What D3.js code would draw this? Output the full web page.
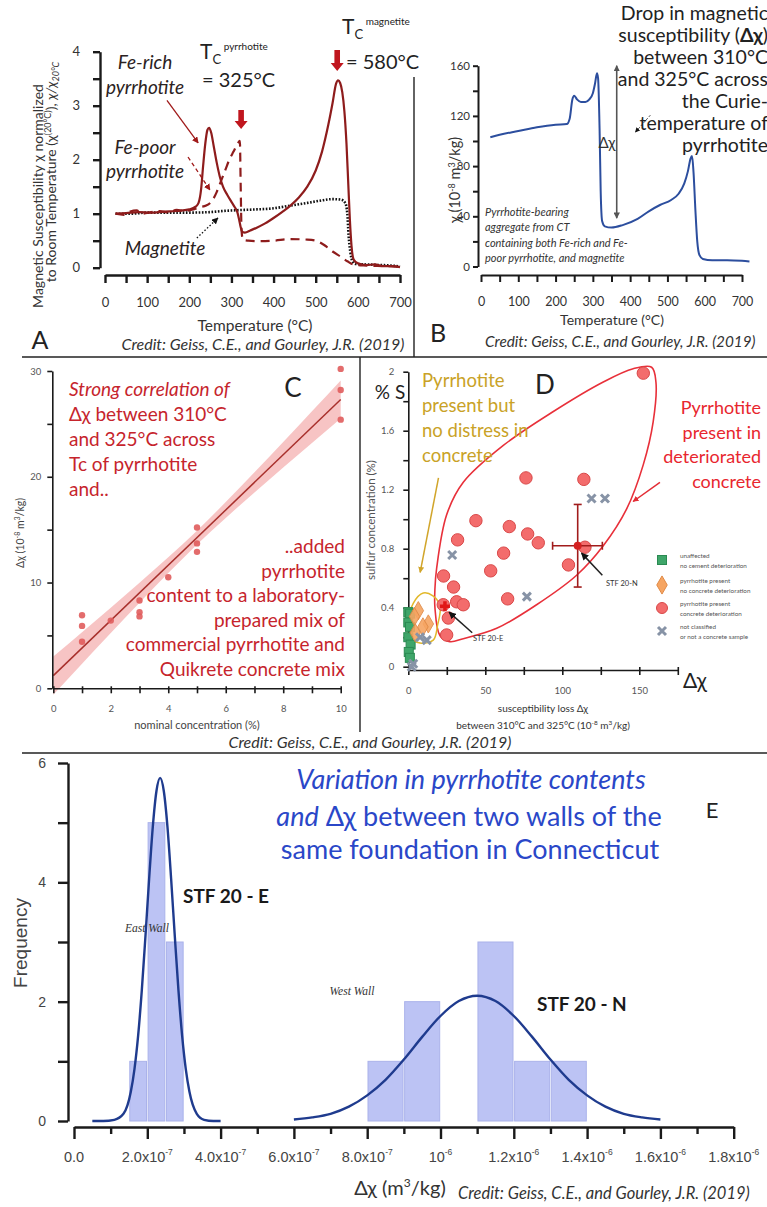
<!DOCTYPE html>
<html>
<head>
<meta charset="utf-8">
<title>Pyrrhotite susceptibility figure</title>
<script src="https://d3js.org/d3.v7.min.js"></script>
<style>
  body { margin: 0; background: #fff; }
  svg { display: block; font-family: Lato, "Open Sans", sans-serif; }
</style>
</head>
<body>
<svg id="fig" width="767" height="1207"></svg>
<script>
// ---------- panel A : normalised susceptibility vs temperature ----------
var feRichCurve = [[25,1.0],[50,1.01],[80,1.03],[110,1.02],[140,1.04],[170,1.05],[200,1.08],[215,1.13],[222,1.2],[228,1.45],[233,1.9],[238,2.3],[243,2.55],[247,2.59],[252,2.5],[258,2.25],[265,1.95],[272,1.7],[280,1.5],[290,1.35],[300,1.22],[308,1.12],[314,1.03],[318,0.9],[322,0.75],[326,0.66],[332,0.65],[345,0.69],[360,0.74],[380,0.82],[400,0.92],[420,1.03],[440,1.15],[460,1.3],[480,1.5],[500,1.8],[515,2.15],[530,2.65],[540,3.05],[548,3.4],[553,3.47],[558,3.42],[563,3.25],[568,2.9],[573,2.3],[577,1.6],[581,0.9],[585,0.4],[590,0.15],[600,0.08],[620,0.05],[640,0.06],[660,0.03],[680,0.03],[700,0.01]];
var fePoorCurve = [[25,1.0],[45,0.98],[60,1.04],[75,1.06],[90,1.0],[110,1.03],[130,1.05],[150,1.02],[170,1.07],[190,1.05],[210,1.08],[225,1.12],[240,1.15],[255,1.25],[265,1.4],[275,1.6],[285,1.8],[295,2.0],[305,2.15],[315,2.3],[320,2.35],[322,1.5],[324,0.7],[327,0.52],[340,0.5],[360,0.49],[400,0.5],[440,0.53],[480,0.52],[500,0.5],[520,0.42],[540,0.3],[560,0.2],[575,0.12],[590,0.06],[620,0.04],[660,0.03],[700,0.02]];
var magnetiteCurve = [[25,1.0],[60,1.0],[100,1.02],[150,1.02],[200,1.02],[250,1.03],[280,1.05],[300,1.06],[330,1.07],[360,1.08],[400,1.1],[440,1.15],[480,1.2],[510,1.24],[540,1.27],[560,1.26],[570,1.2],[575,1.0],[578,0.6],[582,0.3],[587,0.12],[595,0.07],[620,0.06],[650,0.05],[680,0.04],[700,0.02]];

// ---------- panel B : susceptibility of CT aggregate ----------
var aggregateCurve = [[25,103],[50,105],[100,108],[150,111],[200,113],[230,113.5],[238,118],[245,133],[250,136],[258,133],[268,131],[280,131],[290,133],[300,138],[306,146],[311,154],[314,150],[318,110],[321,60],[325,36],[332,32],[350,31],[380,33],[420,38],[450,44],[480,49],[510,53],[530,58],[545,66],[555,76],[562,86],[566,88],[570,75],[575,45],[580,20],[586,9],[595,6],[620,5],[660,5],[700,4.5],[720,4]];

// ---------- panel C : calibration with added pyrrhotite ----------
var nominalConc = [1,1,1,2,3,3,3,4,5,5,5,10,10,10];
var deltaChiC = [6.9,5.9,4.4,6.4,8.3,7.2,6.8,10.5,15.2,13.7,12.9,30.2,28.2,25.4];
var fitX = [0,10];
var fitY = [1.2,27.3];
var bandX = [0,1,2,3,4,5,6,7,8,9,10];
var bandLo = [-0.6,2.31,5.22,8.08,10.89,13.6,16.11,18.52,20.88,23.19,25.5];
var bandHi = [3.0,5.31,7.62,9.98,12.39,14.9,17.61,20.42,23.28,26.19,29.1];

// ---------- panel D : sulfur vs susceptibility loss ----------
var redX = [152.6,76.4,114,43.9,32,65.6,77.5,84.4,61.9,53.5,22.9,29.4,64.5,104,114.7,31.4,35.7,22.7,26,24.9];
var redY = [1.99,1.28,1.27,0.99,0.86,0.95,0.90,0.84,0.77,0.65,0.615,0.54,0.46,0.69,0.81,0.44,0.42,0.42,0.33,0.215];
var grayX = [28.5,77,119,127.7,3.2,7.6,12,2.2];
var grayY = [0.757,0.475,1.14,1.14,0.02,0.2,0.18,0.0];
var greenX = [0,1.2,0,1.1,0,1.5,0.3,1];
var greenY = [0.37,0.36,0.3,0.27,0.2,0.15,0.1,0.06];
var orangeX = [6.5,4,13,4.5,9.5];
var orangeY = [0.38,0.34,0.29,0.23,0.27];
var stfE = [23.8,0.41];
var stfN = [110,0.82];
var stfNxErr = [93.7,126];
var stfNyErr = [0.54,1.10];
var loopX = [18.4,24.9,35.7,61.7,94.2,126.6,146,158,160.8,159,152.6,141.8,126.6,109.3,83.3,57.4,35.7,27,20.6,17.3,17.3];
var loopY = [0.667,1.03,1.25,1.50,1.73,1.93,2.02,2.03,1.93,1.66,1.37,1.07,0.82,0.62,0.42,0.26,0.19,0.17,0.21,0.40,0.53];
var ovalX = [9.7,16,20.6,19,16.2,7.6,1,0,3.2];
var ovalY = [0.5,0.48,0.41,0.28,0.18,0.16,0.2,0.3,0.43];

// ---------- panel E : histograms of the two walls ----------
var eastBins = [1.5e-7,2.0e-7,2.5e-7];
var eastCounts = [1,5,3];
var eastWidth = 0.5e-7;
var westBins = [8e-7,9e-7,1.0e-6,1.1e-6,1.2e-6,1.3e-6];
var westCounts = [1,2,0,3,1,1];
var westWidth = 1e-7;
var eastFitX = [0.5e-7,0.8e-7,1.1e-7,1.35e-7,1.55e-7,1.65e-7,1.75e-7,1.85e-7,1.95e-7,2.05e-7,2.15e-7,2.25e-7,2.35e-7,2.45e-7,2.55e-7,2.65e-7,2.75e-7,2.85e-7,2.95e-7,3.05e-7,3.15e-7,3.35e-7,3.55e-7,3.8e-7,4.0e-7];
var eastFitY = [0,0,0.02,0.12,0.49,0.87,1.43,2.19,3.10,4.06,4.93,5.53,5.75,5.53,4.93,4.06,3.10,2.19,1.43,0.87,0.49,0.12,0.02,0,0];
var westFitX = [6e-7,6.5e-7,7e-7,7.5e-7,8e-7,8.5e-7,9e-7,9.5e-7,1.0e-6,1.05e-6,1.1e-6,1.15e-6,1.2e-6,1.25e-6,1.3e-6,1.35e-6,1.4e-6,1.45e-6,1.5e-6,1.55e-6,1.6e-6];
var westFitY = [0.025,0.06,0.12,0.24,0.43,0.69,1.03,1.41,1.76,2.01,2.10,2.01,1.76,1.41,1.03,0.69,0.43,0.24,0.12,0.06,0.025];
var eTickVals = [0,2e-7,4e-7,6e-7,8e-7,1e-6,1.2e-6,1.4e-6,1.6e-6,1.8e-6];
var eTickMant = ["0.0","2.0x10","4.0x10","6.0x10","8.0x10","10","1.2x10","1.4x10","1.6x10","1.8x10"];
var eTickExp = ["","-7","-7","-7","-7","-6","-6","-6","-6","-6"];

var credit = "Credit: Geiss, C.E., and Gourley, J.R. (2019)";

var svg = d3.select("#fig");

// arrow heads
var defs = svg.append("defs");
function marker(id, color, size) {
    defs.append("marker").attr("id", id)
        .attr("viewBox", "0 0 10 10").attr("refX", 9).attr("refY", 5)
        .attr("markerWidth", size).attr("markerHeight", size)
        .attr("orient", "auto-start-reverse")
        .append("path").attr("d", "M0,0L10,5L0,10z").attr("fill", color);
}
marker("arDark", "#a01a1a", 5);
marker("arBlack", "#111", 5);
marker("arGray", "#555", 4);
marker("arGold", "#d1a52a", 4);
marker("arRed", "#e32d36", 4);

function text(g, x, y, s, attrs) {
    var t = g.append("text").attr("x", x).attr("y", y).text(s);
    for (var k in attrs) t.attr(k, attrs[k]);
    return t;
}
// text made of several styled pieces
function rich(g, x, y, parts, attrs) {
    var t = g.append("text").attr("x", x).attr("y", y);
    for (var k in attrs) t.attr(k, attrs[k]);
    parts.forEach(function(p) {
        var s = t.append("tspan").text(p[0]);
        for (var k in p[1] || {}) s.attr(k, p[1][k]);
    });
    return t;
}
function styleAxis(g, size, color, width, family) {
    g.selectAll("path, line").attr("stroke", "#1a1a1a").attr("stroke-width", width);
    g.selectAll("text").attr("font-size", size).attr("fill", color)
        .attr("font-family", family || "Lato, sans-serif");
}
var creditStyle = {"font-size": 16, "font-style": "italic", "fill": "#333"};

// ================= PANEL A =================
var gA = svg.append("g");
var xA = d3.scaleLinear().domain([0, 700]).range([105, 400]);
var yA = d3.scaleLinear().domain([0, 4]).range([267.7, 51.7]);

var axA = gA.append("g").attr("transform", "translate(0,275)")
    .call(d3.axisBottom(xA).tickValues(d3.range(0, 701, 50)).tickSize(8).tickSizeOuter(0)
        .tickPadding(15).tickFormat(function(d) { return d % 100 === 0 ? d : ""; }));
styleAxis(axA, 13, "#333", 2.4);
var ayA = gA.append("g").attr("transform", "translate(100,0)")
    .call(d3.axisLeft(yA).tickValues(d3.range(0, 4.01, 0.5)).tickSize(7).tickSizeOuter(0)
        .tickPadding(13).tickFormat(function(d) { return Number.isInteger(d) ? d : ""; }));
styleAxis(ayA, 13, "#333", 2.4);

var lineA = d3.line().x(function(d) { return xA(d[0]); }).y(function(d) { return yA(d[1]); })
    .curve(d3.curveMonotoneX);
gA.append("path").attr("d", lineA(magnetiteCurve)).attr("fill", "none")
    .attr("stroke", "#111").attr("stroke-width", 2.6).attr("stroke-dasharray", "1.6,1.6");
gA.append("path").attr("d", lineA(fePoorCurve)).attr("fill", "none")
    .attr("stroke", "#8e1c1c").attr("stroke-width", 2.2).attr("stroke-dasharray", "9,6");
gA.append("path").attr("d", lineA(feRichCurve)).attr("fill", "none")
    .attr("stroke", "#8e1c1c").attr("stroke-width", 2.2);

// annotation arrows
function arrowA(a, b, color, mark, dash) {
    gA.append("line").attr("x1", xA(a[0])).attr("y1", yA(a[1])).attr("x2", xA(b[0])).attr("y2", yA(b[1]))
        .attr("stroke", color).attr("stroke-width", 1.3).attr("stroke-dasharray", dash || null)
        .attr("marker-end", "url(#" + mark + ")");
}
arrowA([147, 3.1], [221, 2.31], "#a01a1a", "arDark");
arrowA([197, 2.05], [249, 1.44], "#a01a1a", "arDark", "4,3");
arrowA([218, 0.55], [268, 0.92], "#111", "arBlack", "1.5,2");

// thick red Curie arrows
function curieArrow(T, top, bot) {
    var x = xA(T);
    gA.append("path")
        .attr("d", "M" + (x - 2.8) + "," + top + "V" + (bot - 8) + "H" + (x - 6.5) + "L" + x + "," + bot +
            "L" + (x + 6.5) + "," + (bot - 8) + "H" + (x + 2.8) + "V" + top + "Z")
        .attr("fill", "#c0161e");
}
curieArrow(323, 110, 129);
curieArrow(551, 50, 71);

var annA = { "font-size": 19, "font-style": "italic", "fill": "#2b2222", "text-anchor": "middle" };
text(gA, 145, 69, "Fe-rich", annA);
text(gA, 145, 94, "pyrrhotite", annA);
text(gA, 145, 154, "Fe-poor", annA);
text(gA, 145, 178, "pyrrhotite", annA);
text(gA, 165, 255, "Magnetite", annA);

rich(gA, 200, 59, [["T", {"font-size": 21}], ["C", {"font-size": 13, "dy": 5}],
    [" pyrrhotite", {"font-size": 10, "dy": -14}]], {"fill": "#222"});
text(gA, 202, 87, "= 325°C", {"font-size": 20, "fill": "#222"});
rich(gA, 342, 34, [["T", {"font-size": 21}], ["C", {"font-size": 13, "dy": 5}],
    [" magnetite", {"font-size": 10, "dy": -14}]], {"fill": "#222"});
text(gA, 346, 69, "= 580°C", {"font-size": 20, "fill": "#222"});

text(gA, 255, 331, "Temperature (°C)", {"font-size": 15.5, "fill": "#333", "text-anchor": "middle"});
text(gA, 40, 349, "A", {"font-size": 25, "fill": "#222", "text-anchor": "middle"});
text(gA, 263, 350, credit, Object.assign({"text-anchor": "middle"}, creditStyle));

var yLab1 = gA.append("g").attr("transform", "translate(43,196) rotate(-90)");
text(yLab1, 0, 0, "Magnetic Susceptibility χ normalized", {"font-size": 14, "fill": "#333", "text-anchor": "middle"});
var yLab2 = gA.append("g").attr("transform", "translate(56,172) rotate(-90)");
rich(yLab2, 0, 0, [["to Room Temperature (χ"], ["(20°C)", {"font-size": 9, "dy": -5}],
    ["),  ", {"dy": 5}], ["χ/χ", {"font-style": "italic"}], ["20°C", {"font-size": 9, "dy": 3, "font-style": "italic"}]],
    {"font-size": 14, "fill": "#333", "text-anchor": "middle"});

// ================= PANEL B =================
var gB = svg.append("g");
var xB = d3.scaleLinear().domain([0, 700]).range([481, 742]);
var yB = d3.scaleLinear().domain([0, 160]).range([266.5, 65.7]);
var axB = gB.append("g").attr("transform", "translate(0,275)")
    .call(d3.axisBottom(xB).tickValues(d3.range(0, 701, 50)).tickSize(7).tickSizeOuter(0)
        .tickPadding(15).tickFormat(function(d) { return d % 100 === 0 ? d : ""; }));
styleAxis(axB, 12.5, "#333", 2);
var ayB = gB.append("g").attr("transform", "translate(478,0)")
    .call(d3.axisLeft(yB).tickValues(d3.range(0, 161, 20)).tickSize(5).tickSizeOuter(0)
        .tickPadding(3).tickFormat(function(d) { return d % 40 === 0 ? d : ""; }));
styleAxis(ayB, 11.5, "#333", 2);

var lineB = d3.line().x(function(d) { return xB(d[0]); }).y(function(d) { return yB(d[1]); })
    .curve(d3.curveMonotoneX);
gB.append("path").attr("d", lineB(aggregateCurve)).attr("fill", "none")
    .attr("stroke", "#2c4e9e").attr("stroke-width", 2);

gB.append("line").attr("x1", xB(364)).attr("x2", xB(364)).attr("y1", yB(38.5)).attr("y2", yB(160))
    .attr("stroke", "#555").attr("stroke-width", 1.6)
    .attr("marker-start", "url(#arGray)").attr("marker-end", "url(#arGray)");
text(gB, 607, 148, "Δχ", {"font-size": 15, "fill": "#333", "text-anchor": "middle"});
gB.append("line").attr("x1", xB(454)).attr("y1", yB(120.5)).attr("x2", xB(414)).attr("y2", yB(107))
    .attr("stroke", "#333").attr("stroke-width", 1).attr("stroke-dasharray", "2,2")
    .attr("marker-end", "url(#arBlack)");

var dropLines = ["Drop in magnetic", null, "between 310°C", "and 325°C across", "the Curie-", "temperature of", "pyrrhotite"];
dropLines.forEach(function(s, i) {
    if (s === null) {
        rich(gB, 768, 20 + i * 22, [["susceptibility ("], ["Δχ", {"font-weight": "bold"}], [")"]],
            {"font-size": 19.5, "fill": "#222", "text-anchor": "end"});
    } else {
        text(gB, 768, 20 + i * 22, s, {"font-size": 19.5, "fill": "#222", "text-anchor": "end"});
    }
});
var noteB = ["Pyrrhotite-bearing", "aggregate from CT", "containing both Fe-rich and Fe-", "poor pyrrhotite, and magnetite"];
noteB.forEach(function(s, i) {
    text(gB, 485, 216 + i * 15.3, s, {"font-size": 11, "font-style": "italic", "fill": "#333"});
});
text(gB, 612, 325, "Temperature (°C)", {"font-size": 14, "fill": "#333", "text-anchor": "middle"});
text(gB, 438, 342, "B", {"font-size": 25, "fill": "#222", "text-anchor": "middle"});
text(gB, 485, 347, credit, Object.assign({}, creditStyle, {"font-size": 15.3}));
var yLabB = gB.append("g").attr("transform", "translate(460,180) rotate(-90)");
rich(yLabB, 0, 0, [["χ (10"], ["-8", {"font-size": 9, "dy": -5}], [" m", {"dy": 5}],
    ["3", {"font-size": 9, "dy": -5}], ["/kg)", {"dy": 5}]],
    {"font-size": 14.5, "fill": "#333", "text-anchor": "middle"});

// ================= dividers =================
svg.append("line").attr("x1", 414).attr("x2", 414).attr("y1", 77).attr("y2", 357)
    .attr("stroke", "#222").attr("stroke-width", 1.4);
svg.append("line").attr("x1", 22).attr("x2", 767).attr("y1", 357).attr("y2", 357)
    .attr("stroke", "#222").attr("stroke-width", 1.6);
svg.append("line").attr("x1", 360).attr("x2", 360).attr("y1", 357).attr("y2", 732)
    .attr("stroke", "#222").attr("stroke-width", 1.4);
svg.append("line").attr("x1", 22).attr("x2", 767).attr("y1", 753).attr("y2", 753)
    .attr("stroke", "#222").attr("stroke-width", 1.6);

// ================= PANEL C =================
var gC = svg.append("g");
var xC = d3.scaleLinear().domain([0, 10]).range([53.3, 340.7]);
var yC = d3.scaleLinear().domain([0, 30]).range([688.3, 371]);

gC.append("path")
    .attr("d", d3.area().x(function(d, i) { return xC(bandX[i]); })
        .y0(function(d, i) { return yC(bandLo[i]); }).y1(function(d, i) { return yC(bandHi[i]); })
        .curve(d3.curveMonotoneX)(bandX))
    .attr("fill", "#f29c9c").attr("opacity", 0.6);
gC.append("line").attr("x1", xC(fitX[0])).attr("y1", yC(fitY[0])).attr("x2", xC(fitX[1])).attr("y2", yC(fitY[1]))
    .attr("stroke", "#a8302c").attr("stroke-width", 1.5);
gC.selectAll("circle").data(nominalConc).enter().append("circle")
    .attr("cx", function(d) { return xC(d); }).attr("cy", function(d, i) { return yC(deltaChiC[i]); })
    .attr("r", 3.2).attr("fill", "#e05c5c").attr("opacity", 0.9);

var axC = gC.append("g").attr("transform", "translate(0,688.3)")
    .call(d3.axisBottom(xC).tickValues(d3.range(0, 11, 1)).tickSize(5).tickSizeOuter(0)
        .tickPadding(12).tickFormat(function(d) { return d % 2 === 0 ? d : ""; }));
styleAxis(axC, 9.5, "#555", 1.6);
axC.selectAll(".tick line").attr("y1", -2);
var ayC = gC.append("g").attr("transform", "translate(52.3,0)")
    .call(d3.axisLeft(yC).tickValues([0, 5, 10, 15, 20, 25, 30]).tickSize(5).tickSizeOuter(0)
        .tickPadding(6).tickFormat(function(d) { return d % 10 === 0 ? d : ""; }));
styleAxis(ayC, 9.5, "#555", 1.6);

var redC = { "font-size": 19, "fill": "#c6242c" };
text(gC, 69, 396, "Strong correlation of", Object.assign({"font-style": "italic"}, redC));
rich(gC, 69, 421, [["Δχ"], [" between 310°C"]], redC);
text(gC, 69, 446, "and 325°C across", redC);
text(gC, 69, 471, "Tc of pyrrhotite", redC);
text(gC, 69, 496, "and..", redC);
["..added", "pyrrhotite", "content to a laboratory-", "prepared mix of", "commercial pyrrhotite and", "Quikrete concrete mix"]
    .forEach(function(s, i) {
        text(gC, 345, 553 + i * 24.6, s, Object.assign({"text-anchor": "end"}, redC));
    });
text(gC, 293, 397, "C", {"font-size": 26, "fill": "#222", "text-anchor": "middle"});
text(gC, 197, 729, "nominal concentration (%)", {"font-size": 11, "fill": "#444", "text-anchor": "middle"});
var yLabC = gC.append("g").attr("transform", "translate(24,533) rotate(-90)");
rich(yLabC, 0, 0, [["Δχ (10"], ["-8", {"font-size": 7, "dy": -4}], [" m", {"dy": 4}],
    ["3", {"font-size": 7, "dy": -4}], ["/kg)", {"dy": 4}]],
    {"font-size": 10.5, "fill": "#444", "text-anchor": "middle"});

// ================= PANEL D =================
var gD = svg.append("g");
var xD = d3.scaleLinear().domain([0, 175]).range([408.3, 677.8]);
var yD = d3.scaleLinear().domain([0, 2]).range([666.7, 371.7]);

var loopLine = d3.line().x(function(d) { return xD(d[0]); }).y(function(d) { return yD(d[1]); })
    .curve(d3.curveCatmullRomClosed.alpha(0.5));
gD.append("path").attr("d", loopLine(loopX.map(function(x, i) { return [x, loopY[i]]; })))
    .attr("fill", "none").attr("stroke", "#e8303a").attr("stroke-width", 1.6);
gD.append("path").attr("d", loopLine(ovalX.map(function(x, i) { return [x, ovalY[i]]; })))
    .attr("fill", "none").attr("stroke", "#e2b82a").attr("stroke-width", 1.5);

var axD = gD.append("g").attr("transform", "translate(0,670)")
    .call(d3.axisBottom(xD).tickValues(d3.range(0, 176, 25)).tickSize(5).tickSizeOuter(0)
        .tickPadding(12).tickFormat(function(d) { return d % 50 === 0 ? d : ""; }));
styleAxis(axD, 9.5, "#555", 1.6);
axD.selectAll(".tick line").attr("y1", -3);
var ayD = gD.append("g").attr("transform", "translate(408.3,0)")
    .call(d3.axisLeft(yD).tickValues(d3.range(0, 2.01, 0.2)).tickSize(5).tickSizeOuter(0)
        .tickPadding(9).tickFormat(function(d, i) { return i % 2 === 0 ? d3.format("")(+d.toFixed(1)) : ""; }));
styleAxis(ayD, 9.5, "#555", 1.6);

gD.selectAll(".sq").data(greenX).enter().append("rect").attr("class", "sq")
    .attr("x", function(d) { return xD(d) - 4.5; }).attr("y", function(d, i) { return yD(greenY[i]) - 4.5; })
    .attr("width", 9).attr("height", 9).attr("fill", "#3fa66a").attr("stroke", "#2b8a52");
gD.selectAll(".dm").data(orangeX).enter().append("path").attr("class", "dm")
    .attr("d", d3.symbol().type(d3.symbolDiamond).size(95))
    .attr("transform", function(d, i) { return "translate(" + xD(d) + "," + yD(orangeY[i]) + ")"; })
    .attr("fill", "#f6a562").attr("stroke", "#e08a46").attr("opacity", 0.9);
gD.selectAll(".rc").data(redX).enter().append("circle").attr("class", "rc")
    .attr("cx", function(d) { return xD(d); }).attr("cy", function(d, i) { return yD(redY[i]); })
    .attr("r", 6.2).attr("fill", "#f36c6c").attr("stroke", "#d94848").attr("stroke-width", 1);
gD.selectAll(".gx").data(grayX).enter().append("path").attr("class", "gx")
    .attr("d", "M-4,-4L4,4M-4,4L4,-4")
    .attr("transform", function(d, i) { return "translate(" + xD(d) + "," + yD(grayY[i]) + ")"; })
    .attr("stroke", "#8793a6").attr("stroke-width", 3);

// STF crosses with error bars
function plus(p, s) {
    gD.append("path").attr("d", "M-" + s + ",0H" + s + "M0,-" + s + "V" + s)
        .attr("transform", "translate(" + xD(p[0]) + "," + yD(p[1]) + ")")
        .attr("stroke", "#e01818").attr("stroke-width", 3.5);
}
plus(stfE, 5);
gD.append("line").attr("x1", xD(stfNxErr[0])).attr("x2", xD(stfNxErr[1])).attr("y1", yD(stfN[1])).attr("y2", yD(stfN[1]))
    .attr("stroke", "#a11c1c").attr("stroke-width", 1.6);
gD.append("line").attr("x1", xD(stfN[0])).attr("x2", xD(stfN[0])).attr("y1", yD(stfNyErr[0])).attr("y2", yD(stfNyErr[1]))
    .attr("stroke", "#a11c1c").attr("stroke-width", 1.6);
[stfNxErr[0], stfNxErr[1]].forEach(function(v) {
    gD.append("line").attr("x1", xD(v)).attr("x2", xD(v)).attr("y1", yD(stfN[1]) - 4).attr("y2", yD(stfN[1]) + 4)
        .attr("stroke", "#a11c1c").attr("stroke-width", 1.6);
});
[stfNyErr[0], stfNyErr[1]].forEach(function(v) {
    gD.append("line").attr("x1", xD(stfN[0]) - 4).attr("x2", xD(stfN[0]) + 4).attr("y1", yD(v)).attr("y2", yD(v))
        .attr("stroke", "#a11c1c").attr("stroke-width", 1.6);
});
gD.append("circle").attr("cx", xD(stfN[0])).attr("cy", yD(stfN[1])).attr("r", 4).attr("fill", "#d42020");

function arrowD(a, b, color, mark, w) {
    gD.append("line").attr("x1", xD(a[0])).attr("y1", yD(a[1])).attr("x2", xD(b[0])).attr("y2", yD(b[1]))
        .attr("stroke", color).attr("stroke-width", w).attr("marker-end", "url(#" + mark + ")");
}
arrowD([41.5, 0.23], [26.5, 0.37], "#222", "arBlack", 1.5);
arrowD([126, 0.62], [112.5, 0.77], "#222", "arBlack", 1.5);
arrowD([19.6, 1.28], [7.7, 0.64], "#d1a52a", "arGold", 1.5);
arrowD([163.4, 1.25], [146, 1.12], "#e32d36", "arRed", 1.5);
text(gD, 473, 641, "STF 20-E", {"font-size": 7.5, "fill": "#333"});
text(gD, 606, 586, "STF 20-N", {"font-size": 7.5, "fill": "#333"});

var gold = { "font-size": 18.5, "fill": "#c9a227" };
["Pyrrhotite", "present but", "no distress in", "concrete"].forEach(function(s, i) {
    text(gD, 422, 387 + i * 25, s, gold);
});
var redD = { "font-size": 18, "fill": "#e8262e", "text-anchor": "end" };
["Pyrrhotite", "present in", "deteriorated", "concrete"].forEach(function(s, i) {
    text(gD, 761, 414 + i * 24.5, s, redD);
});
text(gD, 390, 399, "% S", {"font-size": 19, "fill": "#222", "text-anchor": "middle"});
text(gD, 545, 394, "D", {"font-size": 26, "fill": "#222", "text-anchor": "middle"});
text(gD, 695, 688, "Δχ", {"font-size": 21, "fill": "#222", "text-anchor": "middle"});
rich(gD, 543, 712, [["susceptibility loss Δχ"]], {"font-size": 10, "fill": "#333", "text-anchor": "middle"});
rich(gD, 543, 729, [["between 310°C and 325°C (10"], ["-8", {"font-size": 6.5, "dy": -4}], [" m", {"dy": 4}],
    ["3", {"font-size": 6.5, "dy": -4}], ["/kg)", {"dy": 4}]], {"font-size": 10, "fill": "#333", "text-anchor": "middle"});
var yLabD = gD.append("g").attr("transform", "translate(375,520) rotate(-90)");
text(yLabD, 0, 0, "sulfur concentration (%)", {"font-size": 11.5, "fill": "#555", "text-anchor": "middle"});

// legend
var legD = gD.append("g").attr("transform", "translate(662,0)");
var legText = [["unaffected", "no cement deterioration"], ["pyrrhotite present", "no concrete deterioration"],
    ["pyrrhotite present", "concrete deterioration"], ["not classified", "or not a concrete sample"]];
var legY = [560, 585, 608, 631];
legD.append("rect").attr("x", -4.5).attr("y", legY[0] - 4.5).attr("width", 9).attr("height", 9)
    .attr("fill", "#3fa66a").attr("stroke", "#2b8a52");
legD.append("path").attr("d", d3.symbol().type(d3.symbolDiamond).size(95)).attr("transform", "translate(0," + legY[1] + ")")
    .attr("fill", "#f6a562").attr("stroke", "#e08a46");
legD.append("circle").attr("cy", legY[2]).attr("r", 5.5).attr("fill", "#f36c6c").attr("stroke", "#d94848");
legD.append("path").attr("d", "M-4,-4L4,4M-4,4L4,-4").attr("transform", "translate(0," + legY[3] + ")")
    .attr("stroke", "#8793a6").attr("stroke-width", 3);
legText.forEach(function(t, i) {
    text(legD, 18, legY[i] - 2.5, t[0], {"font-size": 6.3, "fill": "#555"});
    text(legD, 18, legY[i] + 7.5, t[1], {"font-size": 6.3, "fill": "#555"});
});

text(svg, 370, 748, credit, Object.assign({"text-anchor": "middle"}, creditStyle));

// ================= PANEL E =================
var gE = svg.append("g");
var xE = d3.scaleLinear().domain([0, 1.8e-6]).range([74, 733.7]);
var yE = d3.scaleLinear().domain([0, 6]).range([1121, 763]);

function bars(bins, counts, w) {
    var data = bins.map(function(b, i) { return [b, counts[i]]; }).filter(function(d) { return d[1] > 0; });
    gE.selectAll(null).data(data).enter().append("rect")
        .attr("x", function(d) { return xE(d[0]) + 0.8; })
        .attr("width", function(d) { return xE(d[0] + w) - xE(d[0]) - 1.6; })
        .attr("y", function(d) { return yE(d[1]); })
        .attr("height", function(d) { return yE(0) - yE(d[1]); })
        .attr("fill", "#bcc3f4").attr("stroke", "#aab2ea").attr("stroke-width", 1);
}
bars(eastBins, eastCounts, eastWidth);
bars(westBins, westCounts, westWidth);

var lineE = d3.line().x(function(d) { return xE(d[0]); }).y(function(d) { return yE(d[1]); })
    .curve(d3.curveMonotoneX);
gE.append("path").attr("d", lineE(eastFitX.map(function(x, i) { return [x, eastFitY[i]]; })))
    .attr("fill", "none").attr("stroke", "#1f3b8e").attr("stroke-width", 2.4);
gE.append("path").attr("d", lineE(westFitX.map(function(x, i) { return [x, westFitY[i]]; })))
    .attr("fill", "none").attr("stroke", "#1f3b8e").attr("stroke-width", 2.4);

var ayE = gE.append("g").attr("transform", "translate(68,0)")
    .call(d3.axisLeft(yE).tickValues(d3.range(0, 7, 1)).tickSize(10).tickSizeOuter(0)
        .tickPadding(12).tickFormat(function(d) { return d % 2 === 0 ? d : ""; }));
styleAxis(ayE, 14, "#444", 2.4, "'Liberation Sans', Arial, sans-serif");
var minorE = d3.range(0, 18.5, 1).map(function(k) { return k * 1e-7; });
var axE = gE.append("g").attr("transform", "translate(0,1127)")
    .call(d3.axisBottom(xE).tickValues(minorE).tickSize(7).tickSizeOuter(0).tickFormat(""));
styleAxis(axE, 13, "#444", 2.4);
axE.selectAll(".tick line").attr("y2", function(d, i) { return i % 2 === 0 ? 12 : 7; });
var labE = gE.append("g").attr("font-family", "'Liberation Sans Narrow', 'Liberation Sans', Arial, sans-serif")
    .attr("font-size", 14.5).attr("fill", "#444");
eTickVals.forEach(function(v, i) {
    var t = labE.append("text").attr("x", xE(v)).attr("y", 1162).attr("text-anchor", "middle");
    t.append("tspan").text(eTickMant[i]);
    if (eTickExp[i]) t.append("tspan").text(eTickExp[i]).attr("font-size", 8.5).attr("dy", -7);
});

var blue = { "font-size": 27, "fill": "#2a47c8", "text-anchor": "middle" };
text(gE, 471, 789, "Variation in pyrrhotite contents", Object.assign({"font-style": "italic", "font-size": 27.5}, blue));
rich(gE, 469, 826, [["and", {"font-style": "italic"}], [" Δχ between two walls of the"]], blue);
text(gE, 470, 859, "same foundation in Connecticut", blue);
text(gE, 712, 818, "E", {"font-size": 22, "fill": "#222", "text-anchor": "middle"});
text(gE, 183, 903, "STF 20 - E", {"font-size": 19, "font-weight": "bold", "fill": "#1a1a1a"});
text(gE, 537, 1011, "STF 20 - N", {"font-size": 19, "font-weight": "bold", "fill": "#1a1a1a"});
text(gE, 147, 932, "East Wall", {"font-size": 11.5, "font-style": "italic", "fill": "#333", "text-anchor": "middle",
    "font-family": "'Liberation Serif', serif"});
text(gE, 352, 995, "West Wall", {"font-size": 11.5, "font-style": "italic", "fill": "#333", "text-anchor": "middle",
    "font-family": "'Liberation Serif', serif"});
var yLabE = gE.append("g").attr("transform", "translate(27,943) rotate(-90)");
text(yLabE, 0, 0, "Frequency", {"font-size": 19, "fill": "#444", "text-anchor": "middle",
    "font-family": "'Liberation Sans', Arial, sans-serif"});
rich(gE, 400, 1195, [["Δχ (m"], ["3", {"font-size": 12, "dy": -8}], ["/kg)", {"dy": 8}]],
    {"font-size": 20, "fill": "#333", "text-anchor": "middle"});
text(gE, 458, 1199, credit, Object.assign({}, creditStyle, {"font-size": 16.5}));
</script>
</body>
</html>
